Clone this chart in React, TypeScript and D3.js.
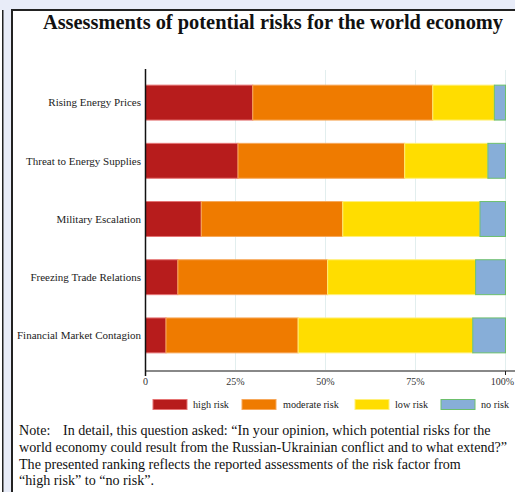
import React from "react";
import * as d3 from "d3";

const categories = [
  "Rising Energy Prices",
  "Threat to Energy Supplies",
  "Military Escalation",
  "Freezing Trade Relations",
  "Financial Market Contagion",
];
const seriesNames = ["high risk", "moderate risk", "low risk", "no risk"];
const highRisk = [29.8, 25.7, 15.5, 9.0, 5.7];
const moderateRisk = [50.0, 46.3, 39.3, 41.6, 36.7];
const lowRisk = [17.1, 23.1, 38.1, 41.1, 48.5];
const noRisk = [3.1, 4.9, 7.1, 8.3, 9.1];
const tickValues = [0, 25, 50, 75, 100];
const tickLabels = ["0", "25%", "50%", "75%", "100%"];

const fills = ["#b71c1c", "#ef7b00", "#ffdd00", "#87aed8"];
const strokes = ["#e57373", "#f7a85a", "#fff07a", "#6cbf6c"];

export default function App() {
  const W = 515;
  const H = 492;
  const x = d3.scaleLinear().domain([0, 100]).range([145.5, 505.5]);
  const y = d3
    .scaleBand<string>()
    .domain(categories)
    .range([73.5, 364.5])
    .paddingInner(0.4)
    .paddingOuter(0.2);

  const rows = categories.map((c, i) => ({
    cat: c,
    vals: [highRisk[i], moderateRisk[i], lowRisk[i], noRisk[i]],
  }));
  const stack = d3
    .stack<any>()
    .keys(["0", "1", "2", "3"])
    .value((d: any, k: string) => d.vals[+k]);
  const series = stack(rows);

  const axisY = 371;
  const serif = "'Liberation Serif', 'Times New Roman', serif";

  const legendX = [153, 242, 355, 441];
  const legendTextX = [193, 283, 395, 481];

  return (
    <div style={{ position: "fixed", left: 0, top: 0 }}>
      <svg width={W} height={H} style={{ display: "block" }} fontFamily={serif}>
        <rect x={0} y={0} width={W} height={H} fill="#e8ecf8" />
        <rect x={0} y={10} width={2} height={H} fill="#ffffff" />
        <line x1={2.75} y1={10} x2={2.75} y2={H} stroke="#222" strokeWidth={1.5} />
        <rect x={12} y={10} width={W} height={H} fill="#ffffff" stroke="#222" strokeWidth={2} />

        <text
          x={273}
          y={29}
          textAnchor="middle"
          fontSize={20.4}
          fontWeight="bold"
          fill="#111"
        >
          Assessments of potential risks for the world economy
        </text>

        {/* grid */}
        {tickValues.slice(1).map((t) => (
          <line
            key={t}
            x1={x(t)}
            x2={x(t)}
            y1={70}
            y2={axisY}
            stroke="#e2eeee"
            strokeWidth={1}
          />
        ))}

        {/* bars */}
        {series.map((s, si) => (
          <g key={si}>
            {s.map((d, i) => (
              <rect
                key={i}
                x={x(d[0])}
                y={y(categories[i])!}
                width={x(d[1]) - x(d[0])}
                height={y.bandwidth()}
                fill={fills[si]}
                stroke={strokes[si]}
                strokeWidth={1}
              />
            ))}
          </g>
        ))}

        {/* x axis */}
        <line x1={x(0)} x2={W} y1={axisY} y2={axisY} stroke="#888" strokeWidth={2} />
        <line x1={x(100)} x2={x(100)} y1={axisY} y2={axisY + 4} stroke="#222" strokeWidth={1} />
        {tickValues.map((t, i) => (
          <text
            key={t}
            x={x(t)}
            y={axisY + 14}
            textAnchor={i === tickValues.length - 1 ? "end" : "middle"}
            dx={i === tickValues.length - 1 ? 8.5 : 0}
            fontSize={10}
            fill="#333"
          >
            {tickLabels[i]}
          </text>
        ))}

        {/* y axis */}
        <line x1={x(0)} x2={x(0)} y1={69} y2={axisY + 5} stroke="#111" strokeWidth={1.5} />
        {categories.map((c) => (
          <text
            key={c}
            x={141}
            y={y(c)! + y.bandwidth() / 2}
            dy="0.35em"
            textAnchor="end"
            fontSize={11}
            fill="#222"
          >
            {c}
          </text>
        ))}

        {/* legend */}
        {seriesNames.map((n, i) => (
          <g key={n}>
            <rect
              x={legendX[i]}
              y={399.5}
              width={34}
              height={10}
              fill={fills[i]}
              stroke={strokes[i]}
              strokeWidth={1}
            />
            <text x={legendTextX[i]} y={404.5} dy="0.35em" fontSize={10.2} fill="#222">
              {n}
            </text>
          </g>
        ))}

        {/* note */}
        <g fontSize={14.1} fill="#111">
          <text x={19} y={435}>Note:</text>
          <text x={63} y={435}>
            In detail, this question asked: “In your opinion, which potential risks for the
          </text>
          <text x={19} y={452}>
            world economy could result from the Russian-Ukrainian conflict and to what extend?”
          </text>
          <text x={19} y={469}>
            The presented ranking reflects the reported assessments of the risk factor from
          </text>
          <text x={19} y={485}>“high risk” to “no risk”.</text>
        </g>
      </svg>
    </div>
  );
}
